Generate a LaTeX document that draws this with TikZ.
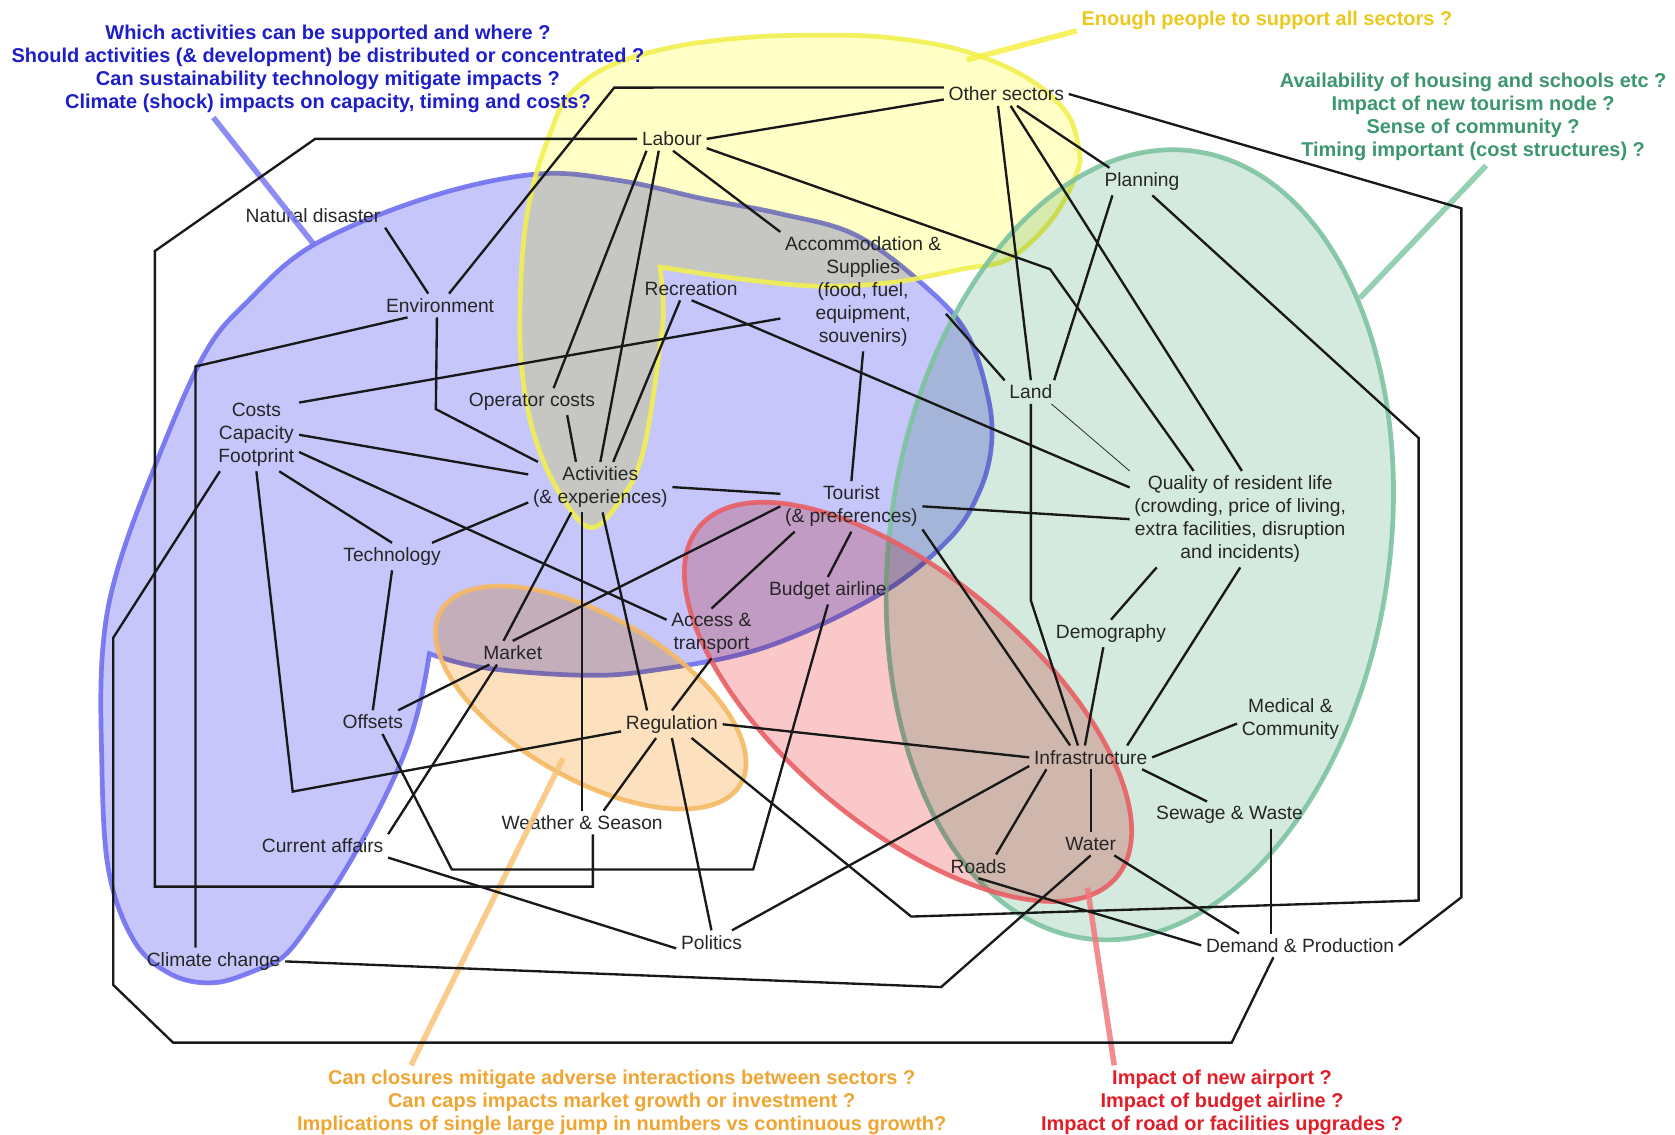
\documentclass[tikz,border=0pt]{standalone}
\usepackage{fontspec}
\setmainfont{Liberation Sans}

\definecolor{bluefill}{RGB}{198,198,250}
\definecolor{blueline}{RGB}{112,112,240}
\definecolor{yelfill}{RGB}{255,255,198}
\definecolor{yelline}{RGB}{242,240,80}
\definecolor{grnfill}{RGB}{213,234,222}
\definecolor{grnline}{RGB}{125,195,160}
\definecolor{redfill}{RGB}{250,200,200}
\definecolor{redline}{RGB}{232,95,100}
\definecolor{orgfill}{RGB}{253,225,190}
\definecolor{orgline}{RGB}{245,185,100}
\definecolor{qblue}{RGB}{30,30,200}
\definecolor{qyellow}{RGB}{235,200,30}
\definecolor{qgreen}{RGB}{60,150,110}
\definecolor{qorange}{RGB}{240,165,50}
\definecolor{qred}{RGB}{225,30,40}
\definecolor{ptblue}{RGB}{120,120,240}
\definecolor{ptyellow}{RGB}{245,240,70}
\definecolor{ptgreen}{RGB}{130,200,165}
\definecolor{ptorange}{RGB}{248,195,120}
\definecolor{ptred}{RGB}{240,120,125}

% outlines of the two free-form groups
\newcommand\bluerim{plot[smooth, tension=0.6] coordinates {
    (402,612) (452,625) (541,632) (608,628) (716,606) (824,556) (888,505)
    (916,462) (928,418) (925,372) (905,312) (866,268) (801,220) (730,200)
    (658,186) (580,169) (502,163) (400,185) (294,229) (233,281) (190,334)
    (140,449) (108,540) (96,610) (95,700) (101,811) (125,880) (160,912)
    (200,920) (240,908) (268,893) (300,850) (327,808) (356,755) (380,702)
    (394,655) (402,612)} -- cycle}
\newcommand\yellowrim{plot[smooth, tension=0.6] coordinates {
    (618,250) (700,262) (770,268) (838,264) (900,252) (945,242) (985,205)
    (1008,162) (1010,140) (998,105) (960,72) (900,47) (830,35) (766,33)
    (700,35) (630,44) (570,62) (532,90) (515,125) (500,170) (491,218)
    (487,281) (488,340) (498,400) (520,455) (553,494) (585,462) (600,430)
    (609,387) (617,330) (621,293) (618,250)} -- cycle}

\begin{document}
\begin{tikzpicture}[
    x=0.25mm, y=-0.25mm,
    lbl/.style={font=\fontsize{12.8}{15.3}\selectfont, align=center, inner sep=3pt, text=black!85},
    ques/.style={font=\bfseries\fontsize{13.3}{15.3}\selectfont, align=center, inner sep=3pt},
    link/.style={line width=0.55mm, black!90},
    thinlink/.style={line width=0.2mm, black!80},
    tint/.style={blend mode=multiply},
    rim/.style={line width=1.1mm, draw opacity=0.9},
    pointer/.style={line width=1.3mm, opacity=0.85},
]
\useasboundingbox (0,0) rectangle (1568,1062);

% Groups
\fill[tint, bluefill] \bluerim;
\draw[rim, blueline] \bluerim;
\fill[tint, yelfill] \yellowrim;
\draw[rim, yelline] \yellowrim;
\begin{scope}[rotate around={-8:(1067,510)}]
  \fill[tint, grnfill] (1067,510) ellipse [x radius=234, y radius=372];
  \draw[rim, grnline] (1067,510) ellipse [x radius=234, y radius=372];
\end{scope}
\begin{scope}[rotate around={-40:(850,657)}]
  \fill[tint, redfill] (850,657) ellipse [x radius=255, y radius=117];
  \draw[rim, redline] (850,657) ellipse [x radius=255, y radius=117];
\end{scope}
\begin{scope}[rotate around={-30:(553,653)}]
  \fill[tint, orgfill] (553,653) ellipse [x radius=162, y radius=76];
  \draw[rim, orgline] (553,653) ellipse [x radius=162, y radius=76];
\end{scope}

% Factors
\node[lbl] (OS) at (942,88) {Other sectors};
\node[lbl] (LB) at (629,130) {Labour};
\node[lbl] (PL) at (1069,170) {Planning};
\node[lbl] (ND) at (293,202) {Natural disaster};
\node[lbl] (AS) at (808,273) {Accommodation \&\\Supplies\\(food, fuel,\\equipment,\\souvenirs)};
\node[lbl] (RC) at (647,270) {Recreation};
\node[lbl] (EN) at (412,286) {Environment};
\node[lbl] (LD) at (965,367) {Land};
\node[lbl] (OC) at (498,376) {Operator costs};
\node[lbl] (CC) at (240,407) {Costs\\Capacity\\Footprint};
\node[lbl] (AC) at (562,456) {Activities\\(\& experiences)};
\node[lbl] (TR) at (797,474) {Tourist\\(\& preferences)};
\node[lbl] (QL) at (1161,486) {Quality of resident life\\(crowding, price of living,\\extra facilities, disruption\\and incidents)};
\node[lbl] (TE) at (367,521) {Technology};
\node[lbl] (BA) at (775,553) {Budget airline};
\node[lbl] (AT) at (666,593) {Access \&\\transport};
\node[lbl] (DM) at (1040,593) {Demography};
\node[lbl] (MK) at (480,611) {Market};
\node[lbl] (MC) at (1208,673) {Medical \&\\Community};
\node[lbl] (OF) at (349,676) {Offsets};
\node[lbl] (RG) at (629,678) {Regulation};
\node[lbl] (IN) at (1021,709) {Infrastructure};
\node[lbl] (SW) at (1151,763) {Sewage \& Waste};
\node[lbl] (WS) at (545,770) {Weather \& Season};
\node[lbl] (CA) at (302,792) {Current affairs};
\node[lbl] (WA) at (1021,790) {Water};
\node[lbl] (RD) at (916,811) {Roads};
\node[lbl] (PO) at (666,882) {Politics};
\node[lbl] (DP) at (1217,885) {Demand \& Production};
\node[lbl] (CL) at (200,900) {Climate change};

% Questions
\node[ques, text=qblue] (Qb) at (307,64.5) {Which activities can be supported and where ?\\Should activities (\& development) be distributed or concentrated ?\\Can sustainability technology mitigate impacts ?\\Climate (shock) impacts on capacity, timing and costs?};
\node[ques, text=qyellow] (Qy) at (1186,19.5) {Enough people to support all sectors ?};
\node[ques, text=qgreen] (Qg) at (1379,109.5) {Availability of housing and schools etc ?\\Impact of new tourism node ?\\Sense of community ?\\Timing important (cost structures) ?};
\node[ques, text=qorange] (Qo) at (582,1032) {Can closures mitigate adverse interactions between sectors ?\\Can caps impacts market growth or investment ?\\Implications of single large jump in numbers vs continuous growth?};
\node[ques, text=qred] (Qr) at (1144,1032) {Impact of new airport ?\\Impact of budget airline ?\\Impact of road or facilities upgrades ?};

\coordinate (Pb) at (294,229);
\coordinate (Py) at (905,56);
\coordinate (Pg) at (1273,279);
\coordinate (Po) at (527,710);
\coordinate (Pr) at (1018,831);
\draw[pointer, ptblue] (Qb.203) -- (Pb);
\draw[pointer, ptyellow] (Qy.183) -- (Py);
\draw[pointer, ptgreen] (Qg.285) -- (Pg);
\draw[pointer, ptorange] (Qo.170) -- (Po);
\draw[pointer, ptred] (Qr.161) -- (Pr);

% Other sectors
\draw[link] (OS.174) -- (575,82) -- (EN.53);
\draw[link] (OS.185) -- (LB.east);
\draw[link] (OS.east) -- (1368,195) -- (1368,840) -- (DP.east);
\draw[link] (OS.235) -- (LD.north);
\draw[link] (OS.290) -- (QL.88);
\draw[link] (OS.312) -- (PL.157);

% Labour
\draw[link] (LB.west) -- (295,130) -- (145,235) -- (145,830) -- (555,830) -- (WS.south -| 555,0);
\draw[link] (LB.275) -- (AS.north west);
\draw[link] (LB.345) -- (983,252) -- (QL.134);
\draw[link] (LB.205) -- (OC.32);
\draw[link] (LB.222) -- (AC.north);

% Natural disaster, Environment
\draw[link] (ND.south east) -- (EN.135);
\draw[link] (EN.255) -- (408,383) -- (AC.158);
\draw[link] (EN.200) -- (183,343) -- (CL.north -| 183,0);

% Costs, Capacity, Footprint
\draw[link] (CC.37) -- (AS.198);
\draw[link] (CC.east) -- (AC.170);
\draw[link] (CC.338) -- (AT.163);
\draw[link] (CC.302) -- (TE.north);
\draw[link] (CC.south) -- (274,741) -- (RG.188);
\draw[link] (CC.225) -- (106,597) -- (106,922) -- (162,976) -- (1153,976) -- (DP.204);

% Technology, Offsets, Market
\draw[link] (TE.19) -- (AC.192);
\draw[link] (TE.south) -- (OF.north);
\draw[link] (OF.25) -- (MK.207);
\draw[link] (OF.309) -- (423,814) -- (705,814) -- (BA.south);
\draw[link] (MK.217) -- (CA.north east);
\draw[link] (CA.350) -- (PO.190);

% Activities
\draw[link] (OC.339) -- (AC.134);
\draw[link] (RC.227) -- (AC.63);
\draw[link] (AC.221) -- (MK.128);
\draw[link] (AC.south -| WS.north) -- (WS.north);
\draw[link] (AC.275) -- (RG.151);
\draw[link] (AC.east) -- (TR.170);

% Recreation, Accommodation, Tourist
\draw[link] (RC.272) -- (QL.164);
\draw[link] (AS.south) -- (TR.north);
\draw[link] (AS.345) -- (LD.156);
\draw[link] (TR.west) -- (MK.north);
\draw[link] (TR.204) -- (AT.north);
\draw[link] (TR.south) -- (BA.north);
\draw[link] (TR.east) -- (QL.west);
\draw[link] (TR.342) -- (IN.150);

% Land, Planning
\draw[link] (LD.27) -- (PL.205);
\draw[thinlink] (LD.330) -- (QL.north west);
\draw[link] (LD.south) -- (965,562) -- (IN.137);
\draw[link] (RG.325) -- (853,858) -- (1328,843) -- (1328,410) -- (PL.307);

% Quality, Demography, Infrastructure
\draw[link] (QL.210) -- (DM.north);
\draw[link] (QL.south) -- (IN.18);
\draw[link] (DM.241) -- (IN.116);
\draw[link] (IN.west) -- (RG.east);
\draw[link] (IN.188) -- (PO.30);
\draw[link] (IN.195) -- (RD.34);
\draw[link] (IN.south) -- (WA.north);
\draw[link] (IN.east) -- (MC.185);
\draw[link] (IN.347) -- (SW.149);

% Regulation
\draw[link] (RG.north) -- (AT.south);
\draw[link] (RG.221) -- (WS.29);
\draw[link] (RG.south) -- (PO.north);

% Demand & Production, Climate change
\draw[link] (SW.342) -- (SW.342 |- DP.north);
\draw[link] (WA.334) -- (DP.169);
\draw[link] (RD.south) -- (DP.west);
\draw[link] (CL.east) -- (881,924) -- (WA.south);

\end{tikzpicture}
\end{document}
